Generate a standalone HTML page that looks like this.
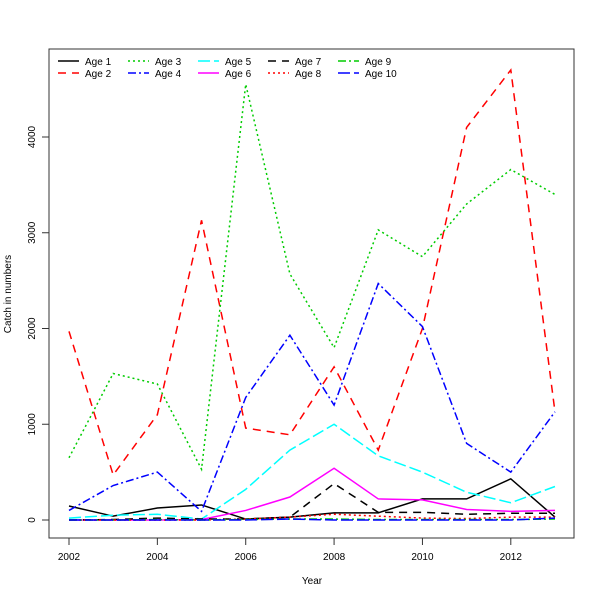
<!DOCTYPE html>
<html><head><meta charset="utf-8"><style>body{margin:0;background:#fff}svg{display:block;font-family:"Liberation Sans","DejaVu Sans",sans-serif}</style></head>
<body>
<svg id="c" width="600" height="600"></svg>
<script>
const years=[2002,2003,2004,2005,2006,2007,2008,2009,2010,2011,2012,2013];
const age1=[146,40,125,157,10,30,75,75,220,220,430,30];
const age2=[1970,470,1100,3130,960,890,1600,730,2000,4100,4700,1130];
const age3=[650,1530,1420,530,4550,2570,1800,3030,2750,3300,3660,3400];
const age4=[100,360,500,90,1280,1930,1200,2470,2020,800,500,1130];
const age5=[20,50,60,10,320,730,1000,670,500,290,180,350];
const age6=[0,0,0,5,100,240,540,220,210,110,90,100];
const age7=[0,5,20,10,10,30,380,80,80,60,70,70];
const age8=[0,0,0,0,10,30,60,40,20,15,30,30];
const age9=[0,0,5,0,5,10,10,5,5,5,5,10];
const age10=[0,0,0,0,0,10,0,0,0,0,0,20];
const xTicks=[2002,2004,2006,2008,2010,2012];
const yTicks=[0,1000,2000,3000,4000];
const seriesNames=["Age 1","Age 2","Age 3","Age 4","Age 5","Age 6","Age 7","Age 8","Age 9","Age 10"];
const seriesData=[age1,age2,age3,age4,age5,age6,age7,age8,age9,age10];
const colors=["#000","#f00","#0c0","#00f","#0ff","#f0f","#000","#f00","#0c0","#00f"];
const dashes=["","8,6","2,3","8,3,2,3","12,4","","8,6","2,3","8,3,2,3","12,4"];
const X=v=>69+(v-2002)*44.18;
const Y=v=>520-v*0.09575;
const NS="http://www.w3.org/2000/svg";
const svg=document.getElementById('c');
function mk(t,a,p){const e=document.createElementNS(NS,t);for(const k in a)e.setAttribute(k,a[k]);(p||svg).appendChild(e);return e;}
const box=mk('rect',{x:49,y:49,width:525,height:489,fill:'none',stroke:'#333'});


xTicks.forEach(t=>{
 const l=mk('line',{x1:X(t),x2:X(t),y1:538,y2:545,stroke:'#333'});
 
 
 const tx=mk('text',{x:X(t),y:560,'font-size':10,'text-anchor':'middle'});tx.textContent=t;
 
 
});
yTicks.forEach(t=>{
 const l=mk('line',{x1:42,x2:49,y1:Y(t),y2:Y(t),stroke:'#333'});
 
 
 const tx=mk('text',{x:35,y:Y(t),'font-size':10,'text-anchor':'middle',transform:`rotate(-90 35 ${Y(t)})`});tx.textContent=t;
 
 
});
const xt=mk('text',{x:312,y:584,'font-size':10,'text-anchor':'middle'});xt.textContent='Year';


const yt=mk('text',{x:11,y:294,'font-size':10,'text-anchor':'middle',transform:'rotate(-90 11 294)'});yt.textContent='Catch in numbers';


seriesData.forEach((d,i)=>{
 const p=mk('polyline',{points:d.map((v,j)=>X(years[j])+','+Y(v)).join(' '),fill:'none',stroke:colors[i],'stroke-width':1.5,'stroke-dasharray':dashes[i]});
 
 
});
seriesNames.forEach((n,i)=>{
 const col=Math.floor(i/2),row=i%2;
 const x=58+col*70,y=61+row*12;
 const g=mk('g',{});
 
 
 mk('line',{x1:x,x2:x+21,y1:y,y2:y,stroke:colors[i],'stroke-width':1.5,'stroke-dasharray':dashes[i]},g);
 const t=mk('text',{x:x+27,y:y+4,'font-size':10},g);t.textContent=n;
});
</script>
</body></html>
